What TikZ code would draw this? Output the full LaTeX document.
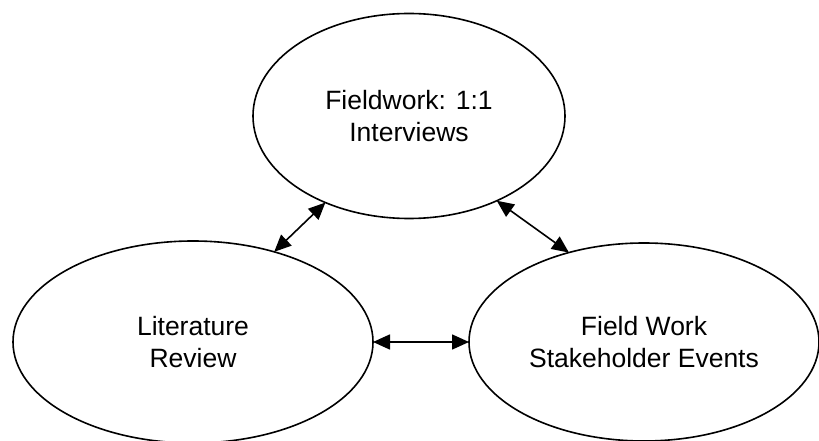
\documentclass[tikz,border=0pt]{standalone}
\usepackage{fontspec}
\setmainfont{Liberation Sans}
\usetikzlibrary{shapes.geometric,arrows.meta}
\begin{document}
\begin{tikzpicture}[x=1bp,y=-1bp,
  oval/.style={ellipse,draw=black,line width=1.6bp,inner sep=0pt,outer sep=0pt,
    align=center,font=\fontsize{26.5bp}{31.5bp}\selectfont},
  link/.style={line width=1.6bp,{Triangle[length=17bp,width=15bp]}-{Triangle[length=17bp,width=15bp]}}]
\useasboundingbox (0,0) rectangle (819,441);
\fill[white] (0,0) rectangle (819,441);
\node[oval,minimum width=312bp,minimum height=205bp] (top) at (409,116) {Fieldwork: 1:1\\Interviews};
\node[oval,minimum width=360bp,minimum height=202bp] (lit) at (193,342) {Literature\\Review};
\node[oval,minimum width=350bp,minimum height=198bp] (fw) at (644,342) {Field Work\\Stakeholder Events};
\draw[link] (lit.48.7) -- (top.226.7);
\draw[link] (top.316) -- (fw.130.5);
\draw[link] (lit.east) -- (fw.west);
\end{tikzpicture}
\end{document}
